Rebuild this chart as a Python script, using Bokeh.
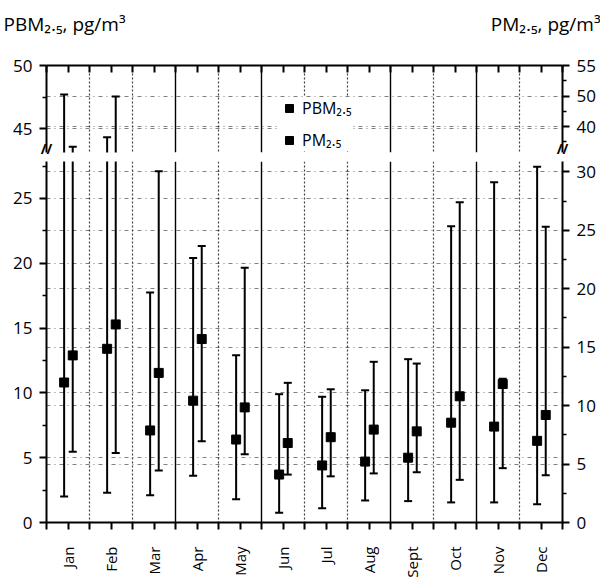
import math
from bokeh.plotting import figure
from bokeh.models import (Range1d, LinearAxis, FixedTicker, Grid, Span,
                          Legend, LegendItem, ColumnDataSource)
from bokeh.layouts import column
from bokeh.embed import file_html
from bokeh.resources import INLINE

# ---------------- data ----------------
months = ["Jan", "Feb", "Mar", "Apr", "May", "Jun",
          "Jul", "Aug", "Sept", "Oct", "Nov", "Dec"]

# PBM2.5, pg/m3 (left axis)
pbm_mean = [10.8, 13.4, 7.1, 9.4, 6.4, 3.7, 4.4, 4.7, 5.0, 7.7, 7.4, 6.3]
pbm_min = [2.0, 2.3, 2.1, 3.6, 1.8, 0.75, 1.1, 1.7, 1.65, 1.55, 1.55, 1.4]
pbm_max = [47.7, 44.3, 17.75, 20.4, 12.9, 9.9, 9.7, 10.2, 12.6, 22.85, 26.25, 27.45]

# PM2.5 (right axis)
pm_mean = [14.3, 16.95, 12.8, 15.7, 9.85, 6.8, 7.3, 7.95, 7.8, 10.8, 11.85, 9.2]
pm_min = [6.05, 5.95, 4.45, 6.95, 5.85, 4.1, 3.95, 4.2, 4.3, 3.65, 4.65, 4.05]
pm_max = [33.4, 49.8, 30.05, 23.65, 21.8, 11.95, 11.4, 13.75, 13.6, 27.4, 12.3, 25.3]

# axis ticks / labels
left_low_ticks = [0, 5, 10, 15, 20, 25]
left_low_minor = [2.5, 7.5, 12.5, 17.5, 22.5, 27.5]
left_up_ticks = [45, 50]
left_up_minor = [47.5]
right_low_ticks = [0, 5, 10, 15, 20, 25, 30]
right_low_minor = [2.5, 7.5, 12.5, 17.5, 22.5, 27.5]
right_up_ticks = [40, 50, 60]
right_up_minor = [35, 45, 55]
right_up_labels = {40: "40", 50: "50", 60: "55"}

left_title = "PBM\u2082.\u2085, pg/m\u00b3"
right_title = "PM\u2082.\u2085, pg/m\u00b3"
legend_labels = ["PBM\u2082.\u2085", "PM\u2082.\u2085"]
break_mark = "//"

FONT = "Open Sans"
W = 600
BL, BR = 46, 38

n = len(months)
src = ColumnDataSource(dict(
    x_pbm=[i - 0.09 for i in range(n)],
    x_pm=[i + 0.11 for i in range(n)],
    pbm_mean=pbm_mean, pbm_min=pbm_min, pbm_max=pbm_max,
    pm_mean=pm_mean, pm_min=pm_min, pm_max=pm_max,
))

bounds = [i + 0.5 for i in range(-1, n)]
inner_bounds = [i + 0.5 for i in range(n - 1)]
solid_bounds = [2.5, 4.5, 7.5, 9.5]


def add_spans(p):
    for b in inner_bounds:
        if b in solid_bounds:
            p.add_layout(Span(location=b, dimension="height", line_color="black",
                              line_width=1.4))
        else:
            p.add_layout(Span(location=b, dimension="height", line_color="black",
                              line_width=1.2, line_dash="2 2", line_alpha=0.75))


def style_y(ax, ticks, minor):
    ax.ticker = FixedTicker(ticks=ticks, minor_ticks=minor)
    ax.axis_line_width = 2
    ax.axis_line_color = "black"
    ax.major_tick_line_width = 2
    ax.minor_tick_line_width = 1.5
    ax.major_tick_out = 7
    ax.major_tick_in = 0
    ax.minor_tick_out = 4
    ax.minor_tick_in = 0
    ax.major_label_text_font = FONT
    ax.major_label_text_font_size = "17px"
    ax.major_label_text_color = "black"
    ax.major_label_standoff = 7


def make_fig(height, yl, yr, btop, bbot, xloc, lt, lm, rt, rm, lgrid, rgrid):
    p = figure(width=W, height=height, x_range=Range1d(-0.5, 11.5),
               y_range=yl, output_backend="svg", toolbar_location=None,
               min_border_left=BL, min_border_right=BR,
               min_border_top=btop, min_border_bottom=bbot,
               x_axis_location=xloc, outline_line_color=None)
    p.xgrid.visible = False
    p.ygrid.visible = False
    p.extra_y_ranges = {"right": yr}
    style_y(p.yaxis[0], lt, lm)
    ar = LinearAxis(y_range_name="right")
    style_y(ar, rt, rm)
    p.add_layout(ar, "right")

    ax = p.xaxis[0]
    ax.ticker = FixedTicker(ticks=list(range(n)), minor_ticks=bounds)
    ax.axis_line_width = 2
    ax.major_tick_line_width = 2
    ax.minor_tick_line_width = 2

    gstyle = dict(grid_line_color="black", grid_line_dash="4 4 1 4",
                  grid_line_alpha=0.5, grid_line_width=1)
    p.add_layout(Grid(dimension=1, ticker=FixedTicker(ticks=lgrid), **gstyle))
    p.add_layout(Grid(dimension=1, ticker=FixedTicker(ticks=rgrid),
                      y_range_name="right", **gstyle))
    add_spans(p)

    # error bars
    p.segment(x0="x_pbm", y0="pbm_min", x1="x_pbm", y1="pbm_max", source=src,
              line_color="black", line_width=2)
    p.scatter("x_pbm", "pbm_max", source=src, marker="dash", size=8,
              line_color="black", line_width=2)
    p.scatter("x_pbm", "pbm_min", source=src, marker="dash", size=8,
              line_color="black", line_width=2)
    r_pbm = p.scatter("x_pbm", "pbm_mean", source=src, marker="square", size=9,
                      color="black")
    p.segment(x0="x_pm", y0="pm_min", x1="x_pm", y1="pm_max", source=src,
              line_color="black", line_width=2, y_range_name="right")
    p.scatter("x_pm", "pm_max", source=src, marker="dash", size=8,
              line_color="black", line_width=2, y_range_name="right")
    p.scatter("x_pm", "pm_min", source=src, marker="dash", size=8,
              line_color="black", line_width=2, y_range_name="right")
    r_pm = p.scatter("x_pm", "pm_mean", source=src, marker="square", size=9,
                     color="black", y_range_name="right")
    return p, r_pbm, r_pm


# ---------------- upper (broken) panel ----------------
up_l = Range1d(43.1, 50)
up_r = Range1d(31.48, 60)
p_up, rb, rp = make_fig(161, up_l, up_r, 65, 9, "above",
                        left_up_ticks, left_up_minor, right_up_ticks, right_up_minor,
                        [45], [40, 50])
ax = p_up.xaxis[0]
ax.major_tick_in = 7
ax.major_tick_out = 0
ax.minor_tick_in = 7
ax.minor_tick_out = 0
ax.major_label_text_font_size = "1px"
ax.major_label_text_color = None
ax.major_label_standoff = 0
p_up.right[0].major_label_overrides = right_up_labels

# the two axis titles, carried by an extra top axis (no line, no ticks)
title_pos = [-0.08, 11.12]
tax = LinearAxis(ticker=FixedTicker(ticks=title_pos, minor_ticks=[]),
                 major_label_overrides={title_pos[0]: left_title,
                                        title_pos[1]: right_title})
tax.axis_line_color = None
tax.major_tick_line_color = None
tax.minor_tick_line_color = None
tax.major_tick_out = 0
tax.major_tick_in = 0
tax.major_label_standoff = 29
tax.major_label_text_font = FONT
tax.major_label_text_font_size = "19px"
tax.major_label_text_color = "black"
p_up.add_layout(tax, "above")

# the "//" axis-break marks, carried by a bottom axis of the upper panel
brk_pos = [-0.5, 11.5]
bax = LinearAxis(ticker=FixedTicker(ticks=brk_pos, minor_ticks=[]),
                 major_label_overrides={brk_pos[0]: break_mark,
                                        brk_pos[1]: break_mark})
bax.axis_line_color = None
bax.major_tick_line_color = None
bax.minor_tick_line_color = None
bax.major_tick_out = 0
bax.major_tick_in = 0
bax.major_label_standoff = -14
bax.major_label_text_font = FONT
bax.major_label_text_font_size = "14px"
bax.major_label_text_font_style = "bold"
bax.major_label_text_color = "black"
p_up.add_layout(bax, "below")

legend = Legend(items=[LegendItem(label=legend_labels[0], renderers=[rb]),
                       LegendItem(label=legend_labels[1], renderers=[rp])],
                location=(233, 1), padding=4, margin=0, spacing=10,
                glyph_width=20, glyph_height=20, label_height=20,
                label_standoff=3, border_line_color=None,
                background_fill_color="white", background_fill_alpha=1,
                label_text_font=FONT, label_text_font_size="16px",
                label_text_color="black")
p_up.add_layout(legend)

# ---------------- lower panel ----------------
lo_l = Range1d(0, 27.85)
lo_r = Range1d(0, 30.89)
p_lo, _, _ = make_fig(419, lo_l, lo_r, 0, 57, "below",
                      left_low_ticks, left_low_minor, right_low_ticks, right_low_minor,
                      [5, 10, 15, 20, 25], [5, 10, 15, 20, 25, 30])
ax = p_lo.xaxis[0]
ax.major_tick_out = 7
ax.major_tick_in = 0
ax.minor_tick_out = 7
ax.minor_tick_in = 0
ax.major_label_overrides = {i: m for i, m in enumerate(months)}
ax.major_label_orientation = math.pi / 2
ax.major_label_text_font = FONT
ax.major_label_text_font_size = "15px"
ax.major_label_text_color = "black"
ax.major_label_standoff = 17

layout = column(p_up, p_lo)
open("out.html", "w").write(file_html(layout, INLINE))
